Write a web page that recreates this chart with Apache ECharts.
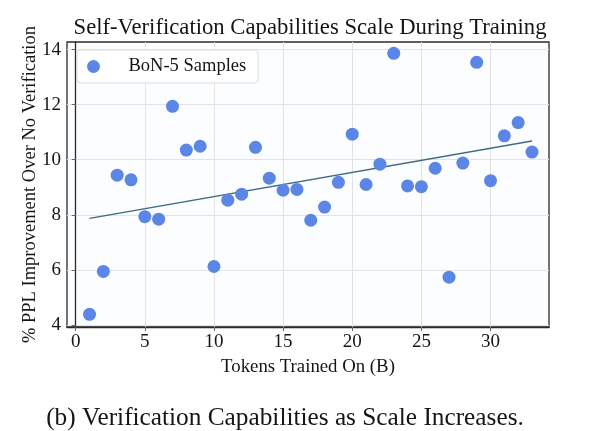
<!DOCTYPE html>
<html><head><meta charset="utf-8">
<script src="https://cdn.jsdelivr.net/npm/echarts@6/dist/echarts.min.js"></script>
<style>html,body{margin:0;padding:0;background:#fff}#c{width:596px;height:431px}</style>
</head><body><div id="c"></div>
<script>
const tokens = [1,2,3,4,5,6,7,8,9,10,11,12,13,14,15,16,17,18,19,20,21,22,23,24,25,26,27,28,29,30,31,32,33];
const improvement = [4.38,5.94,9.44,9.27,7.93,7.84,11.94,10.35,10.49,6.12,8.53,8.75,10.45,9.33,8.89,8.92,7.80,8.28,9.18,10.93,9.10,9.84,13.87,9.05,9.02,9.69,5.73,9.88,13.54,9.24,10.87,11.35,10.28];
const trendX = [1, 33];
const trendY = [7.87, 10.68];
const xTicks = [0,5,10,15,20,25,30];
const yTicks = [4,6,8,10,12,14];

const serif = '"Liberation Serif","Times New Roman",serif';
const chart = echarts.init(document.getElementById('c'), null, {renderer:'canvas'});
chart.setOption({
  animation:false,
  backgroundColor:'#fff',
  title:[
    {text:'Self-Verification Capabilities Scale During Training', left:305, top:12, textAlign:'center',
     textStyle:{fontFamily:serif, fontSize:22.7, fontWeight:'normal', color:'#151515'}},
    {text:'(b) Verification Capabilities as Scale Increases.', left:280, top:401, textAlign:'center',
     textStyle:{fontFamily:serif, fontSize:25.3, fontWeight:'normal', color:'#151515'}}
  ],
  legend:{
    left:77, top:50, orient:'vertical',
    padding:[7,12,7,10],
    backgroundColor:'#fff', borderColor:'#dcdcdc', borderWidth:1, borderRadius:4,
    itemWidth:32, itemHeight:13, icon:'circle',
    textStyle:{fontFamily:serif, fontSize:18.5, color:'#151515', padding:[0,0,0,14]},
    data:['BoN-5 Samples']
  },
  grid:{left:67, right:47, top:42, bottom:104, show:true, borderColor:'#2a2a2a', borderWidth:1.3, backgroundColor:'#fcfdff'},
  xAxis:{
    type:'value', min:-0.63, max:34.23,
    name:'Tokens Trained On (B)', nameLocation:'middle', nameGap:31, nameMoveOverlap:false,
    nameTextStyle:{fontFamily:serif, fontSize:18.8, color:'#151515'},
    axisLine:{show:true, lineStyle:{color:'#2a2a2a', width:1.3}},
    axisTick:{show:true, customValues:xTicks, length:4, lineStyle:{color:'#666'}},
    axisLabel:{customValues:xTicks, fontFamily:serif, fontSize:19, color:'#151515', margin:6},
    splitLine:{show:true, customValues:xTicks, lineStyle:{color:'#e3e3e3', width:1}}
  },
  yAxis:{
    type:'value', min:3.92, max:14.28,
    name:'% PPL Improvement Over No Verification', nameLocation:'middle', nameGap:27, nameMoveOverlap:false,
    nameTextStyle:{fontFamily:serif, fontSize:18.5, color:'#151515'},
    axisLine:{show:true, lineStyle:{color:'#2a2a2a', width:1.3}},
    axisTick:{show:true, customValues:yTicks, length:4, lineStyle:{color:'#666'}},
    axisLabel:{customValues:yTicks, fontFamily:serif, fontSize:19, color:'#151515', margin:6},
    splitLine:{show:true, customValues:yTicks, lineStyle:{color:'#e3e3e3', width:1}}
  },
  series:[
    {type:'line', data:trendX.map((x,i)=>[x,trendY[i]]), symbol:'none', silent:true,
     lineStyle:{color:'#3f6a82', width:1.4}, z:1},
    {name:'BoN-5 Samples', type:'scatter', data:tokens.map((x,i)=>[x,improvement[i]]),
     symbolSize:13, itemStyle:{color:'#5b86e6', opacity:1}, z:2}
  ]
});
</script></body></html>
